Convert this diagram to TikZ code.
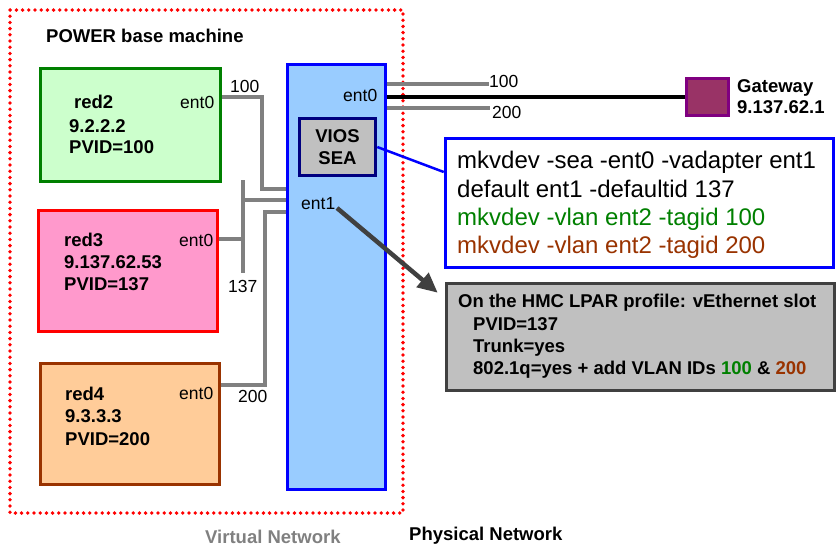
\documentclass[tikz,border=0pt]{standalone}
\usepackage{fontspec}
\setmainfont{Liberation Sans}
\usetikzlibrary{arrows.meta,calc}
\definecolor{grnB}{RGB}{0,128,0}
\definecolor{grnF}{RGB}{204,255,204}
\definecolor{redB}{RGB}{255,0,0}
\definecolor{redF}{RGB}{255,153,204}
\definecolor{brnB}{RGB}{153,51,0}
\definecolor{brnF}{RGB}{255,204,153}
\definecolor{bluB}{RGB}{0,0,255}
\definecolor{bluF}{RGB}{153,204,255}
\definecolor{navB}{RGB}{0,0,128}
\definecolor{gryF}{RGB}{192,192,192}
\definecolor{purB}{RGB}{128,0,128}
\definecolor{purF}{RGB}{153,51,102}
\definecolor{dkB}{RGB}{64,64,64}
\definecolor{lnG}{RGB}{128,128,128}
\tikzset{
  boxx/.style={draw, line width=3.5pt, rectangle, inner sep=0pt},
  bt/.style={font=\fontsize{18.5}{22}\selectfont\bfseries, anchor=base west, inner sep=0pt},
  rt/.style={font=\fontsize{17.5}{21}\selectfont, anchor=base west, inner sep=0pt},
  ct/.style={font=\fontsize{24}{28}\selectfont, anchor=base west, inner sep=0pt},
  gline/.style={draw=lnG, line width=3.5pt},
}
\begin{document}
\begin{tikzpicture}[x=1pt,y=-1pt]
\useasboundingbox (0,0) rectangle (837,547);
% outer dotted frame
\draw[redB, line width=3.8pt, dash pattern=on 0pt off 6.2pt, line cap=round] (10,10) rectangle (403,513);
\node[bt] (title) at (46,42) {POWER base machine};

% boxes
\node[boxx, draw=grnB, fill=grnF, minimum width=180pt, minimum height=113pt] (red2) at (130.5,125) {};
\node[boxx, draw=redB, fill=redF, minimum width=179pt, minimum height=121pt] (red3) at (128,271) {};
\node[boxx, draw=brnB, fill=brnF, minimum width=179pt, minimum height=121pt] (red4) at (130,424) {};
\node[boxx, draw=bluB, fill=bluF, minimum width=98pt, minimum height=425pt] (vios) at (336.5,277) {};
\node[boxx, draw=navB, fill=gryF, minimum width=76pt, minimum height=57pt] (sea) at (337.5,147) {};
\node[boxx, draw=purB, fill=purF, minimum width=42pt, minimum height=37pt] (gw) at (707.5,97) {};
\node[boxx, draw=bluB, fill=white, minimum width=388pt, minimum height=129pt] (cmd) at (639.5,203) {};
\node[boxx, draw=dkB, fill=gryF, minimum width=388pt, minimum height=107pt] (hmc) at (640.5,337) {};

% red2 text
\node[bt] (r2a) at (74,108) {red2};
\node[bt] (r2b) at (69,132) {9.2.2.2};
\node[bt] (r2c) at (69,153) {PVID=100};
\node[rt] (r2e) at (180,108) {ent0};
% red3 text
\node[bt] (r3a) at (64,246) {red3};
\node[bt] (r3b) at (64,268) {9.137.62.53};
\node[bt] (r3c) at (64,290) {PVID=137};
\node[rt] (r3e) at (179,246) {ent0};
% red4 text
\node[bt] (r4a) at (65,400) {red4};
\node[bt] (r4b) at (65,422) {9.3.3.3};
\node[bt] (r4c) at (65,445) {PVID=200};
\node[rt] (r4e) at (179,399) {ent0};

% VIOS text
\node[rt] (ve0) at (343,101) {ent0};
\node[rt] (ve1) at (301,209) {ent1};
\node[bt, anchor=base] (sa) at (337.5,142) {VIOS};
\node[bt, anchor=base] (sb) at (337.5,164) {SEA};

% virtual connectors
\draw[gline] (red2.east |- 0,97) -| (262,189) -- (vios.west |- 0,189);
\draw[gline] (red3.east |- 0,239) -- (243,239);
\draw[gline] (243,180) -- (243,273);
\draw[gline] (243,200) -- (vios.west |- 0,200);
\draw[gline] (red4.east |- 0,385) -| (265,212) -- (vios.west |- 0,212);
\node[rt] (l100) at (230,92) {100};
\node[rt] (l137) at (228,292) {137};
\node[rt] (l200) at (238,402) {200};

% physical side
\coordinate (p100) at (489,84);
\coordinate (p200) at (490,108);
\draw[gline] (vios.east |- p100) -- (p100);
\draw[gline] (vios.east |- p200) -- (p200);
\draw[black, line width=3.5pt] (vios.east |- gw.west) -- (gw.west);
\node[rt] (pl100) at (489,87) {100};
\node[rt] (pl200) at (492,118) {200};
\node[bt] (gwa) at (737,92) {Gateway};
\node[bt] (gwb) at (737,113) {9.137.62.1};

% commands
\draw[bluB, line width=2.5pt] (sea.east) -- (cmd.west |- 0,172);
\node[ct] (c1) at (457,168) {mkvdev -sea -ent0 -vadapter ent1};
\node[ct] (c2) at (457,197) {default ent1 -defaultid 137};
\node[ct, text=grnB] (c3) at (457,225) {mkvdev -vlan ent2 -tagid 100};
\node[ct, text=brnB] (c4) at (457,253) {mkvdev -vlan ent2 -tagid 200};

% arrow to HMC
\coordinate (a1) at (337,208);
\coordinate (a2) at ($(hmc.north west)+(-7,11)$);
\draw[dkB, line width=4.5pt, -{Triangle[length=20pt,width=18pt]}] (a1) -- (a2);
\node[bt] (h1) at (458,307) {On the HMC LPAR profile: vEthernet slot};
\node[bt] (h2) at (473,330) {PVID=137};
\node[bt] (h3) at (473,352) {Trunk=yes};
\node[bt] (h4) at (473,374) {802.1q=yes + add VLAN IDs \textcolor{grnB}{100} \& \textcolor{brnB}{200}};

% bottom labels
\node[bt, text=lnG] (vn) at (205,543) {Virtual Network};
\node[bt] (pn) at (409,540) {Physical Network};
\end{tikzpicture}
\end{document}
